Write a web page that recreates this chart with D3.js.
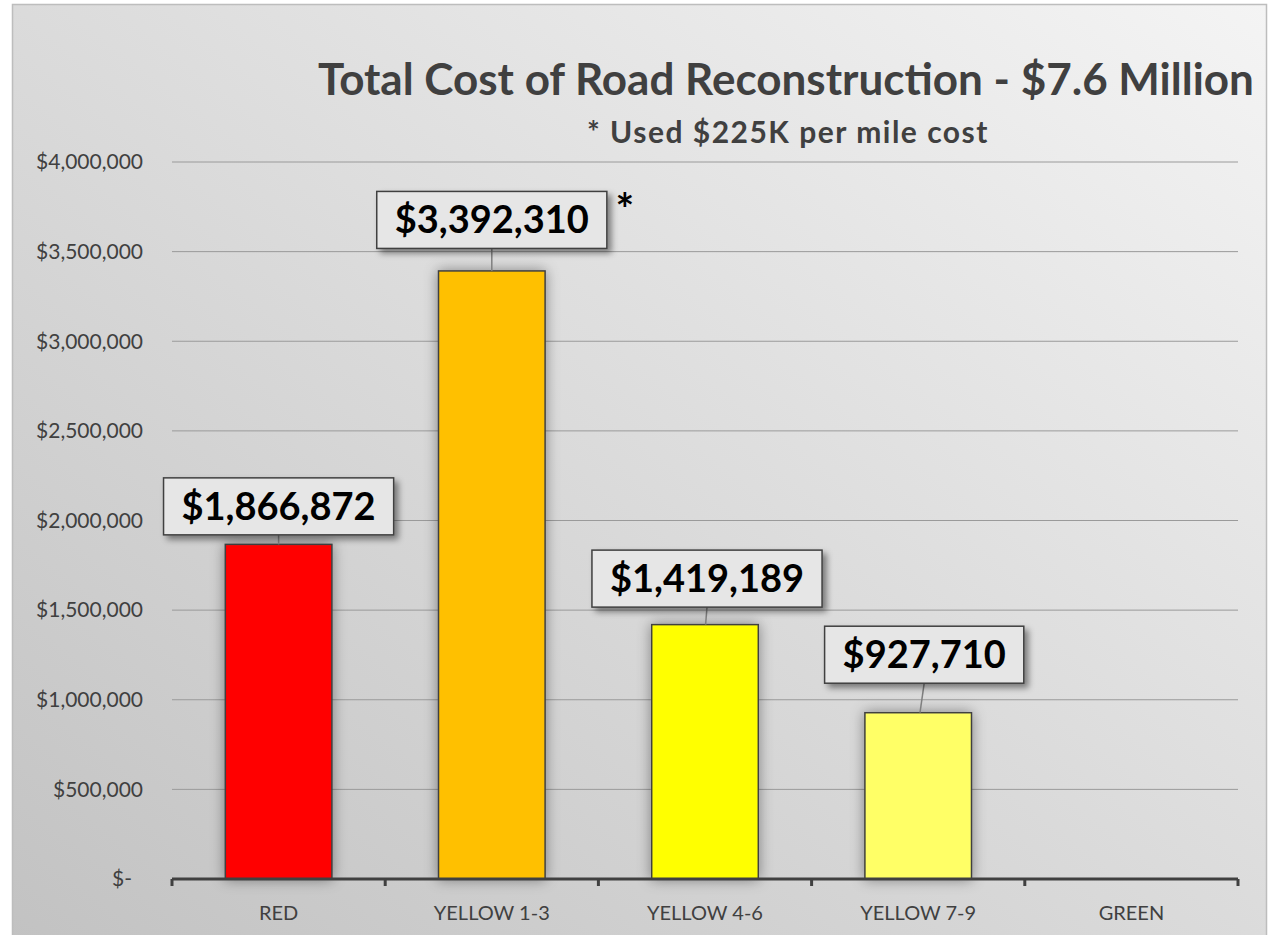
<!DOCTYPE html>
<html>
<head>
<meta charset="utf-8">
<script src="https://cdnjs.cloudflare.com/ajax/libs/d3/7.8.5/d3.min.js"></script>
<style>
  body { margin: 0; background: #fff; }
  text { font-family: Lato, "Open Sans", sans-serif; }
</style>
</head>
<body>
<div id="chart"></div>
<script>
// data
var categories = ["RED", "YELLOW 1-3", "YELLOW 4-6", "YELLOW 7-9", "GREEN"];
var costs = [1866872, 3392310, 1419189, 927710, null];
var barColors = ["#ff0000", "#ffc000", "#ffff00", "#ffff66", "#92d050"];
var yTicks = [0, 500000, 1000000, 1500000, 2000000, 2500000, 3000000, 3500000, 4000000];
var title = "Total Cost of Road Reconstruction - $7.6 Million";
var subtitle = "* Used $225K per mile cost";

// label placement (hand nudged like the original)
var labelDy = [-38, -51, -46, -58];
var labelDx = [0, 0, 2, 6];

var W = 1274, H = 935;
var margin = {left: 172, right: 36, top: 162, bottom: 56};

var svg = d3.select("#chart").append("svg")
    .attr("width", W)
    .attr("height", H);

var defs = svg.append("defs");
var grad = defs.append("linearGradient")
    .attr("id", "bg")
    .attr("x1", "100%").attr("y1", "0%")
    .attr("x2", "0%").attr("y2", "100%");
grad.append("stop").attr("offset", "0%").attr("stop-color", "#f4f4f4");
grad.append("stop").attr("offset", "100%").attr("stop-color", "#c2c2c2");

var shadow = defs.append("filter").attr("id", "shadow")
    .attr("x", "-20%").attr("y", "-20%").attr("width", "150%").attr("height", "160%");
shadow.append("feDropShadow")
    .attr("dx", 4).attr("dy", 4).attr("stdDeviation", 3)
    .attr("flood-color", "#000").attr("flood-opacity", 0.45);

var glow = defs.append("filter").attr("id", "glow")
    .attr("x", "-30%").attr("y", "-10%").attr("width", "160%").attr("height", "120%");
glow.append("feDropShadow")
    .attr("dx", 0).attr("dy", 0).attr("stdDeviation", 7)
    .attr("flood-color", "#000").attr("flood-opacity", 0.4);

// frame
svg.append("rect")
    .attr("x", 12.5).attr("y", 4.5)
    .attr("width", 1254).attr("height", 940)
    .attr("fill", "url(#bg)")
    .attr("stroke", "#bdbdbd")
    .attr("stroke-width", 1.5);

var x = d3.scaleBand()
    .domain(categories)
    .range([margin.left, W - margin.right])
    .paddingInner(0.5)
    .paddingOuter(0.25);

var y = d3.scaleLinear()
    .domain([0, 4000000])
    .range([H - margin.bottom, margin.top]);

// gridlines
svg.append("g")
    .selectAll("line")
    .data(yTicks.slice(1))
    .enter()
    .append("line")
    .attr("x1", margin.left)
    .attr("x2", W - margin.right)
    .attr("y1", function(d) { return y(d); })
    .attr("y2", function(d) { return y(d); })
    .attr("stroke", "#9a9a9a")
    .attr("stroke-width", 1);

// y axis labels
var fmt = d3.format(",");
svg.append("g")
    .selectAll("text")
    .data(yTicks)
    .enter()
    .append("text")
    .attr("x", function(d) { return d === 0 ? 132 : 143; })
    .attr("y", function(d) { return y(d); })
    .attr("dy", "0.35em")
    .attr("text-anchor", "end")
    .attr("font-size", 21)
    .attr("fill", "#404040")
    .text(function(d) { return d === 0 ? "$-" : "$" + fmt(d); });

// bars
var barData = categories.map(function(c, i) { return {cat: c, value: costs[i], color: barColors[i]}; })
    .filter(function(d) { return d.value; });

svg.append("g")
    .selectAll("rect")
    .data(barData)
    .enter()
    .append("rect")
    .attr("x", function(d) { return x(d.cat); })
    .attr("y", function(d) { return y(d.value); })
    .attr("width", x.bandwidth())
    .attr("height", function(d) { return y(0) - y(d.value); })
    .attr("fill", function(d) { return d.color; })
    .attr("stroke", "#404040")
    .attr("stroke-width", 1.5)
    .attr("filter", "url(#glow)");

// x axis
var xAxisG = svg.append("g");
xAxisG.append("line")
    .attr("x1", margin.left).attr("x2", W - margin.right)
    .attr("y1", y(0)).attr("y2", y(0))
    .attr("stroke", "#404040").attr("stroke-width", 3);
var step = x.step();
var bounds = d3.range(categories.length + 1).map(function(i) { return margin.left + i * step; });
xAxisG.selectAll(".tick")
    .data(bounds)
    .enter()
    .append("line")
    .attr("class", "tick")
    .attr("x1", function(d) { return d; }).attr("x2", function(d) { return d; })
    .attr("y1", y(0)).attr("y2", y(0) + 7)
    .attr("stroke", "#404040").attr("stroke-width", 3);
xAxisG.selectAll("text")
    .data(categories)
    .enter()
    .append("text")
    .attr("x", function(d) { return x(d) + x.bandwidth() / 2; })
    .attr("y", 920)
    .attr("text-anchor", "middle")
    .attr("font-size", 20)
    .attr("fill", "#404040")
    .text(function(d) { return d; });

// data labels
var labels = svg.append("g");
barData.forEach(function(d, i) {
    var cx = x(d.cat) + x.bandwidth() / 2 + labelDx[i];
    var cy = y(d.value) + labelDy[i];
    var g = labels.append("g");
    var rect = g.append("rect");
    var t = g.append("text")
        .attr("x", cx).attr("y", cy)
        .attr("dy", "0.35em")
        .attr("text-anchor", "middle")
        .attr("font-size", 38)
        .attr("font-weight", "bold")
        .attr("fill", "#000")
        .text("$" + fmt(d.value));
    var bw = t.node().getComputedTextLength() + 36;
    var bh = 57;
    rect.attr("x", cx - bw / 2).attr("y", cy - bh / 2)
        .attr("width", bw).attr("height", bh)
        .attr("fill", "#e6e6e6")
        .attr("stroke", "#404040")
        .attr("stroke-width", 1.5)
        .attr("filter", "url(#shadow)");
    // leader line
    if (y(d.value) - (cy + bh / 2) > 4) {
        labels.insert("line", ":first-child")
            .attr("x1", cx).attr("y1", cy + bh / 2)
            .attr("x2", x(d.cat) + x.bandwidth() / 2 + labelDx[i] * 0.3).attr("y2", y(d.value))
            .attr("stroke", "#7f7f7f").attr("stroke-width", 1.5);
    }
    if (i === 1) {
        g.append("text")
            .attr("x", cx + bw / 2 + 18).attr("y", cy - bh / 2 + 34)
            .attr("text-anchor", "middle")
            .attr("font-size", 44)
            .attr("font-weight", "bold")
            .attr("fill", "#000")
            .text("*");
    }
});

// titles
svg.append("text")
    .attr("x", 786).attr("y", 95)
    .attr("text-anchor", "middle")
    .attr("font-size", 44)
    .attr("font-weight", "bold")
    .attr("fill", "#404040")
    .text(title);
svg.append("text")
    .attr("x", 788).attr("y", 143)
    .attr("text-anchor", "middle")
    .attr("font-size", 30)
    .attr("font-weight", "bold")
    .attr("letter-spacing", 1.5)
    .attr("fill", "#404040")
    .text(subtitle);
</script>
</body>
</html>
